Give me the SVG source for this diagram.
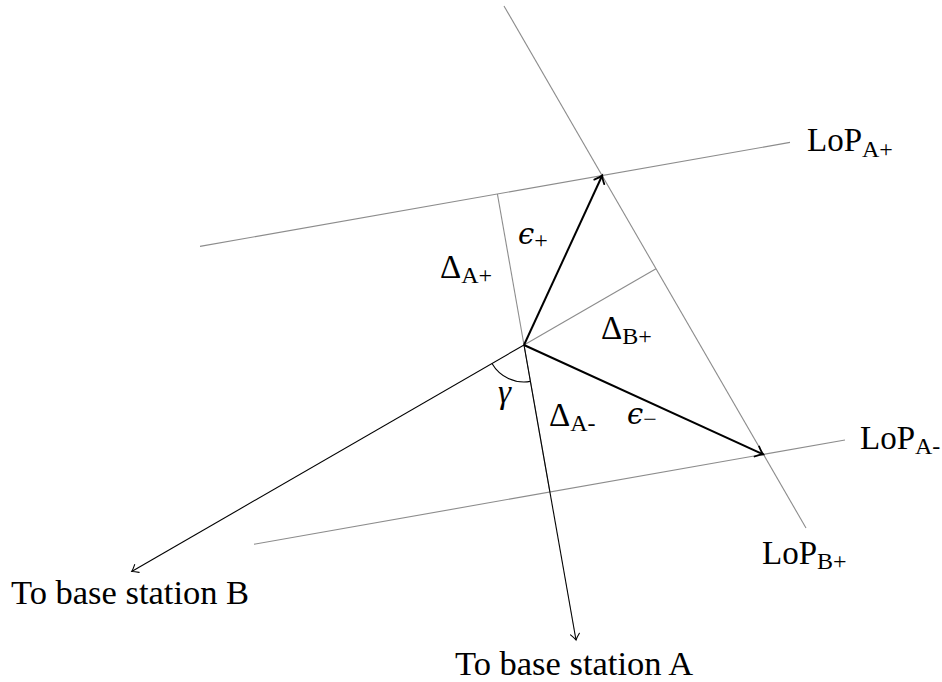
<svg xmlns="http://www.w3.org/2000/svg" width="942" height="682" viewBox="0 0 942 682">
<style>
.lop{stroke:#8c8c8c;stroke-width:1.1;fill:none}
.thin{stroke:#000;stroke-width:1.1;fill:none}
.thick{stroke:#000;stroke-width:2;fill:none}
text{font-family:"Liberation Serif","Times New Roman",serif;fill:#000}
.big{font-size:33px}
.lbl{font-size:34.5px}
.sub{font-size:24px}
.eps{font-family:"DejaVu Serif","Liberation Serif",serif;font-style:italic;font-size:29px}
.gam{font-style:italic;font-size:33px}
</style>
<defs>
<marker id="ahThin" markerUnits="userSpaceOnUse" markerWidth="20" markerHeight="20" viewBox="-10 -10 20 20" refX="0" refY="0" orient="auto" overflow="visible">
<path d="M-6,-4.5 Q-2,-1 0,0 Q-2,1 -6,4.5" fill="none" stroke="#000" stroke-width="1.1" stroke-linecap="round"/>
</marker>
<marker id="ahThick" markerUnits="userSpaceOnUse" markerWidth="24" markerHeight="24" viewBox="-12 -12 24 24" refX="0" refY="0" orient="auto" overflow="visible">
<path d="M-7,-5.5 Q-2.5,-1.2 0,0 Q-2.5,1.2 -7,5.5" fill="none" stroke="#000" stroke-width="1.8" stroke-linecap="round"/>
</marker>
</defs>
<g id="lines-of-position">
<line id="lop-a-plus" class="lop" x1="200" y1="246.4" x2="790" y2="142.4"/>
<line id="lop-a-minus" class="lop" x1="254" y1="544.2" x2="845" y2="440"/>
<line id="lop-b-plus" class="lop" x1="504" y1="6" x2="806" y2="528"/>
</g>
<g id="connectors">
<line id="delta-a-plus" class="lop" x1="524" y1="345" x2="497.4" y2="194"/>
<line id="delta-b-plus" class="lop" x1="524" y1="345" x2="656" y2="268.8"/>
<line id="delta-a-minus" class="lop" x1="524" y1="345" x2="549.9" y2="492"/>
<line id="to-b" class="thin" x1="524" y1="345" x2="131.7" y2="571.5" marker-end="url(#ahThin)"/>
<line id="to-a" class="thin" x1="524" y1="345" x2="576" y2="640" marker-end="url(#ahThin)"/>
<line id="eps-plus" class="thick" x1="524" y1="345" x2="602.2" y2="175.5" marker-end="url(#ahThick)"/>
<line id="eps-minus" class="thick" x1="524" y1="345" x2="763.2" y2="454.4" marker-end="url(#ahThick)"/>
<path id="gamma-arc" class="thin" d="M530.4,381.4 A37,37 0 0 1 492,363.5"/>
</g>
<g id="labels">
<g id="label-lop-a-plus"><text class="big" x="807" y="151">LoP<tspan class="sub" dy="6">A+</tspan></text></g>
<g id="label-lop-a-minus"><text class="big" x="860" y="449">LoP<tspan class="sub" dy="5">A-</tspan></text></g>
<g id="label-lop-b-plus"><text class="big" x="762" y="564">LoP<tspan class="sub" dy="5">B+</tspan></text></g>
<g id="label-delta-a-plus"><text class="big" x="440" y="278">Δ<tspan class="sub" dy="5">A+</tspan></text></g>
<g id="label-delta-b-plus"><text class="big" x="601" y="339">Δ<tspan class="sub" dy="5">B+</tspan></text></g>
<g id="label-delta-a-minus"><text class="big" x="549" y="426">Δ<tspan class="sub" dy="5">A-</tspan></text></g>
<g id="label-eps-plus"><text x="518" y="244"><tspan class="eps">ϵ</tspan><tspan class="sub" dy="4">+</tspan></text></g>
<g id="label-eps-minus"><text x="627" y="424"><tspan class="eps">ϵ</tspan><tspan class="sub" dy="3">−</tspan></text></g>
<g id="label-gamma"><text class="gam" x="498" y="403">γ</text></g>
<g id="label-base-b"><text class="lbl" x="11" y="604">To base station B</text></g>
<g id="label-base-a"><text class="lbl" x="455" y="675">To base station A</text></g>
</g>
</svg>
